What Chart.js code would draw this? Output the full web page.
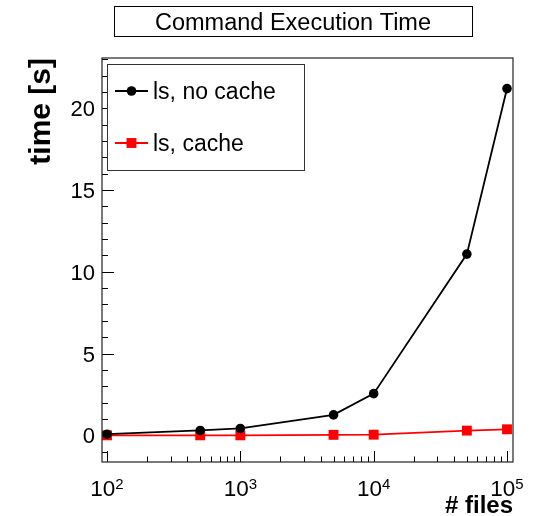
<!DOCTYPE html>
<html>
<head>
<meta charset="utf-8">
<script src="https://cdn.jsdelivr.net/npm/chart.js@4"></script>
<style>
  html, body { margin: 0; padding: 0; background: #fff; }
  #wrap { width: 546px; height: 516px; position: relative; }
</style>
</head>
<body>
<div id="wrap"><canvas id="c" width="546" height="516"></canvas></div>
<script>
// ---- data ----
const filesCount   = [100, 500, 1000, 5000, 10000, 50000, 100000];
const timeNoCache  = [0.07, 0.30, 0.42, 1.25, 2.55, 11.08, 21.2];
const timeCache    = [0.0, 0.0, 0.0, 0.03, 0.04, 0.29, 0.37];
const seriesLabels = ['ls, no cache', 'ls, cache'];
const yMajorTicks  = [0, 5, 10, 15, 20];
const xDecadeExps  = [2, 3, 4, 5];
const chartTitle   = 'Command Execution Time';
const xTitle       = '# files';
const yTitle       = 'time [s]';

const FONT = '"Liberation Sans", Arial, Helvetica, sans-serif';

const rootStyle = {
  id: 'rootStyle',
  beforeDatasetsDraw(chart) {
    const ctx = chart.ctx, a = chart.chartArea;
    const xs = chart.scales.x, ys = chart.scales.y;
    ctx.save();
    ctx.strokeStyle = '#000';
    ctx.lineWidth = 1;
    // y ticks (inside the frame)
    for (let v = Math.ceil(ys.min); v <= ys.max; v++) {
      const py = Math.round(ys.getPixelForValue(v)) + 0.5;
      const len = (v % 5 === 0) ? 12 : 6;
      ctx.beginPath(); ctx.moveTo(a.left, py); ctx.lineTo(a.left + len, py); ctx.stroke();
    }
    // x ticks (log, inside the frame)
    for (let e = 1; e <= 5; e++) {
      for (let k = 1; k <= 9; k++) {
        const v = k * Math.pow(10, e);
        if (v < xs.min || v > xs.max) continue;
        const px = Math.round(xs.getPixelForValue(v)) + 0.5;
        const len = (k === 1) ? 11 : 5.5;
        ctx.beginPath(); ctx.moveTo(px, a.bottom); ctx.lineTo(px, a.bottom - len); ctx.stroke();
      }
    }
    ctx.restore();
  },
  afterDraw(chart) {
    const ctx = chart.ctx, a = chart.chartArea;
    const xs = chart.scales.x, ys = chart.scales.y;
    ctx.save();
    // frame
    ctx.strokeStyle = '#222';
    ctx.lineWidth = 1.2;
    ctx.strokeRect(a.left, a.top, a.right - a.left, a.bottom - a.top);

    ctx.fillStyle = '#000';
    // y tick labels
    ctx.font = '22px ' + FONT;
    ctx.textAlign = 'right';
    ctx.textBaseline = 'alphabetic';
    yMajorTicks.forEach(v => {
      const py = ys.getPixelForValue(v);
      ctx.fillText(String(v), a.left - 7, py + 8);
    });
    // x tick labels 10^n
    xDecadeExps.forEach(e => {
      const px = xs.getPixelForValue(Math.pow(10, e));
      ctx.font = '22.5px ' + FONT;
      const wBase = ctx.measureText('10').width;
      ctx.font = '15px ' + FONT;
      const wSup = ctx.measureText(String(e)).width;
      const x0 = px - (wBase + wSup) / 2;
      ctx.textAlign = 'left';
      ctx.font = '22.5px ' + FONT;
      ctx.fillText('10', x0, 495.5);
      ctx.font = '15px ' + FONT;
      ctx.fillText(String(e), x0 + wBase, 489);
    });
    // axis titles
    ctx.font = 'bold 24px ' + FONT;
    ctx.textAlign = 'right';
    ctx.fillText(xTitle, a.right, 513);
    ctx.save();
    ctx.translate(50, a.top);
    ctx.rotate(-Math.PI / 2);
    ctx.font = 'bold 30px ' + FONT;
    ctx.textAlign = 'right';
    ctx.fillText(yTitle, 0, 0);
    ctx.restore();

    // title box
    ctx.fillStyle = '#fff';
    ctx.fillRect(114, 6, 358, 30);
    ctx.strokeStyle = '#000';
    ctx.lineWidth = 1;
    ctx.strokeRect(114.5, 6.5, 358, 30);
    ctx.fillStyle = '#000';
    ctx.font = '23.5px ' + FONT;
    ctx.textAlign = 'center';
    ctx.fillText(chartTitle, 293, 30);

    // legend box
    const lx = 107, ly = 64, lw = 197, lh = 106;
    ctx.fillStyle = '#fff';
    ctx.fillRect(lx, ly, lw, lh);
    ctx.strokeStyle = '#333';
    ctx.lineWidth = 1;
    ctx.strokeRect(lx + 0.5, ly + 0.5, lw, lh);
    const entries = chart.data.datasets.map((d, i) => ({ d, y: i === 0 ? 91 : 143 }));
    entries.forEach(({ d, y }) => {
      ctx.strokeStyle = d.borderColor;
      ctx.lineWidth = d.borderWidth;
      ctx.beginPath(); ctx.moveTo(115, y); ctx.lineTo(148, y); ctx.stroke();
      ctx.fillStyle = d.pointBackgroundColor;
      if (d.pointStyle === 'circle') {
        ctx.beginPath(); ctx.arc(131.5, y, d.pointRadius, 0, Math.PI * 2); ctx.fill();
      } else {
        const s = d.pointRadius * Math.SQRT1_2;
        ctx.fillRect(131.5 - s, y - s, 2 * s, 2 * s);
      }
      ctx.fillStyle = '#000';
      ctx.font = '23px ' + FONT;
      ctx.textAlign = 'left';
      ctx.fillText(d.label, 153, y + 8.3);
    });
    ctx.restore();
  }
};

new Chart(document.getElementById('c'), {
  type: 'line',
  data: {
    datasets: [
      {
        label: seriesLabels[0],
        data: filesCount.map((x, i) => ({ x, y: timeNoCache[i] })),
        borderColor: '#000',
        backgroundColor: '#000',
        pointBackgroundColor: '#000',
        pointBorderColor: '#000',
        pointStyle: 'circle',
        pointRadius: 4.8,
        pointBorderWidth: 0,
        borderWidth: 1.8,
        tension: 0,
        clip: false
      },
      {
        label: seriesLabels[1],
        data: filesCount.map((x, i) => ({ x, y: timeCache[i] })),
        borderColor: '#ff0000',
        backgroundColor: '#ff0000',
        pointBackgroundColor: '#ff0000',
        pointBorderColor: '#ff0000',
        pointStyle: 'rect',
        pointRadius: 7,
        pointBorderWidth: 0,
        borderWidth: 1.8,
        tension: 0,
        clip: false
      }
    ]
  },
  options: {
    responsive: false,
    animation: false,
    events: [],
    layout: { padding: { left: 102, top: 58, right: 33, bottom: 54 } },
    scales: {
      x: { type: 'logarithmic', min: 91.7, max: 110900, display: false },
      y: { type: 'linear', min: -1.63, max: 23.07, display: false }
    },
    plugins: {
      legend: { display: false },
      title: { display: false },
      tooltip: { enabled: false }
    }
  },
  plugins: [rootStyle]
});
</script>
</body>
</html>
